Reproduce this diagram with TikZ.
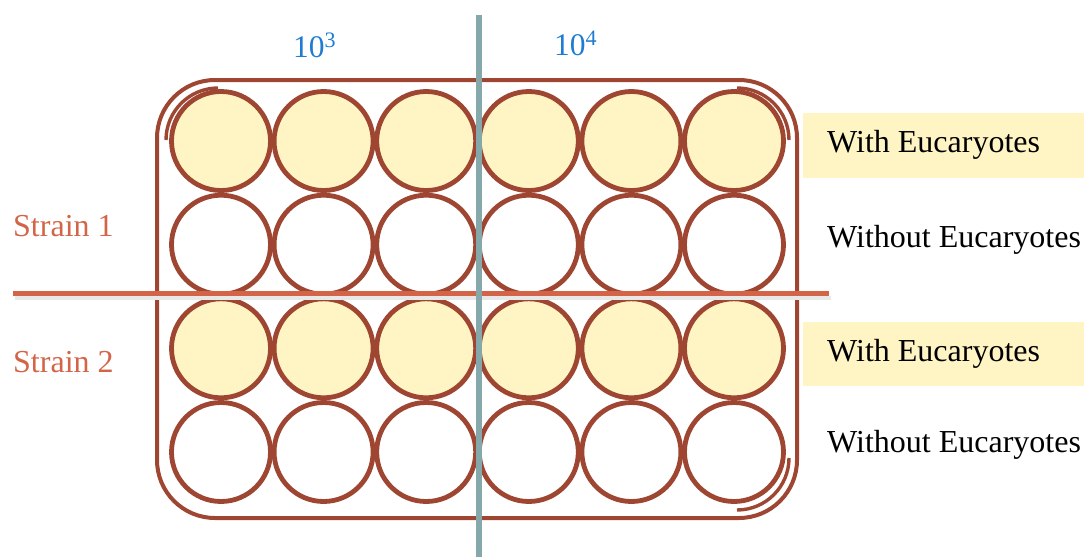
\documentclass[tikz,border=0pt]{standalone}
\usepackage{fontspec}
\setmainfont{Liberation Serif}
\definecolor{wellbrown}{RGB}{158,70,50}
\definecolor{wellfill}{RGB}{255,245,196}
\definecolor{redline}{RGB}{212,100,72}
\definecolor{tealline}{RGB}{133,168,170}
\definecolor{bluetxt}{RGB}{30,125,210}
\begin{document}
\begin{tikzpicture}[x=1pt,y=-1pt,
  well/.style={circle,draw=wellbrown,line width=4.8pt,minimum size=99pt,inner sep=0pt},
  fullwell/.style={well,fill=wellfill},
  emptywell/.style={well,fill=white},
  lbl/.style={anchor=base west,inner sep=0pt,font=\fontsize{32}{36}\selectfont},
  conc/.style={anchor=base west,inner sep=0pt,text=bluetxt,font=\fontsize{31.5}{36}\selectfont},
  hl/.style={fill=wellfill,draw=none}]
\useasboundingbox (0,0) rectangle (1084,557);
% highlight boxes
\fill[hl] (803,113) rectangle (1084,178);
\fill[hl] (803,322) rectangle (1084,386);
% tray
\node[draw=wellbrown,line width=4pt,rounded corners=58pt,minimum width=640pt,minimum height=438pt,inner sep=0pt] (tray) at (477,299) {};
% inner corner arcs
\draw[wellbrown,line width=3.4pt] (166,140) arc[start angle=180,end angle=270,radius=52];
\draw[wellbrown,line width=3.4pt] (737,88) arc[start angle=-90,end angle=0,radius=52];
\draw[wellbrown,line width=3.4pt] (789,458) arc[start angle=0,end angle=90,radius=52];
% wells
\foreach \c/\x in {1/221,2/323.6,3/426.2,4/528.8,5/631.4,6/734}{
  \node[fullwell]  (w1-\c) at (\x,141) {};
  \node[emptywell] (w2-\c) at (\x,244.7) {};
  \node[fullwell]  (w3-\c) at (\x,348.3) {};
  \node[emptywell] (w4-\c) at (\x,452) {};
}
% strain divider
\coordinate (sl) at (15,298);
\coordinate (sr) at (831,298);
\draw[black!9,line width=4pt] (sl) -- (sr);
\coordinate (hl) at (13,293.5);
\coordinate (hr) at (829,293.5);
\draw[redline,line width=5.6pt] (hl) -- (hr);
% dilution divider
\coordinate (vt) at (478.5,15);
\coordinate (vb) at (478.5,557);
\draw[tealline,line width=6pt] (vt) -- (vb);
% labels
\node[conc] (c3) at (293,57) {10\textsuperscript{3}};
\node[conc] (c4) at (554,55) {10\textsuperscript{4}};
\node[lbl,text=redline] (s1) at (13,236) {Strain 1};
\node[lbl,text=redline] (s2) at (13,372) {Strain 2};
\node[lbl] (t1) at (827,152) {With Eucaryotes};
\node[lbl] (t2) at (827,247) {Without Eucaryotes};
\node[lbl] (t3) at (827,361) {With Eucaryotes};
\node[lbl] (t4) at (827,452) {Without Eucaryotes};
\end{tikzpicture}
\end{document}
